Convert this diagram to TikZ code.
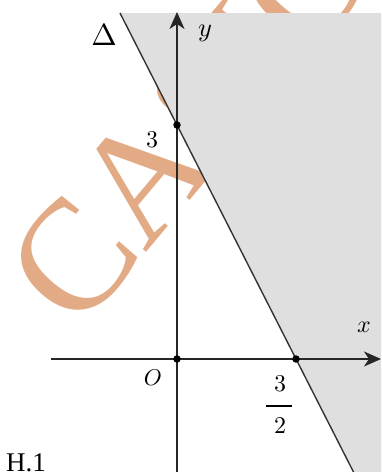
\documentclass[tikz,border=0pt]{standalone}
\usepackage{fontspec}
\newfontfamily\serifT{Liberation Serif}
\usetikzlibrary{arrows.meta}
\definecolor{wmorange}{RGB}{226,170,133}
\definecolor{planegray}{RGB}{223,223,223}
\tikzset{
  axisline/.style={line width=1.6pt, draw=black!85, -{Stealth[length=17pt,width=15pt,inset=5pt]}},
  deltaline/.style={line width=1.4pt, draw=black!80},
  dot/.style={circle, fill=black, inner sep=0pt, minimum size=7.5pt},
  lbl/.style={inner sep=0pt, scale=2.4},
}
\begin{document}
\begin{tikzpicture}[x=1pt,y=-1pt]
\useasboundingbox (0,0) rectangle (381,472);
\clip (0,0) rectangle (381,472);
% watermark
\node[rotate=50, anchor=base west, inner sep=0pt, text=wmorange,
      font=\serifT\fontsize{158}{158}\selectfont] (wm) at (78,334) {CASIO};
% key points
\coordinate (O) at (177,359);
\coordinate (Yi) at (177,125);
\coordinate (Xi) at (296,359);
\coordinate (Ltop) at (120,13);
\coordinate (Lbot) at (353.5,472);
\coordinate (Ybot) at (177,472);
\coordinate (Ytop) at (177,12);
\coordinate (Xleft) at (51,359);
\coordinate (Xright) at (381,359);
% shaded half-plane
\fill[planegray] (Ltop) -- (381,13) -- (381,472) -- (Lbot) -- cycle;
% line Delta
\draw[deltaline] (Ltop) -- (Lbot);
% axes
\draw[axisline] (Xleft) -- (Xright);
\draw[axisline] (Ybot) -- (Ytop);
% points
\node[dot] (pO) at (O) {};
\node[dot] (pY) at (Yi) {};
\node[dot] (pX) at (Xi) {};
% labels
\node[lbl, scale=1.27] (lD) at (104,35) {$\Delta$};
\node[lbl, scale=1.1] (ly) at (205,33) {$y$};
\node[lbl] (l3) at (152,140) {$3$};
\node[lbl] (lx) at (364,327) {$x$};
\node[lbl, scale=0.95] (lO) at (153,378) {$O$};
\node[lbl] (fn) at (280,384) {$3$};
\node[lbl] (fd) at (280,426) {$2$};
\draw[line width=1.3pt] (266,406) -- (292,406);
\node[anchor=base west, inner sep=0pt, font=\serifT\fontsize{27}{30}\selectfont] (h1) at (6,471) {H.1};
\end{tikzpicture}
\end{document}
